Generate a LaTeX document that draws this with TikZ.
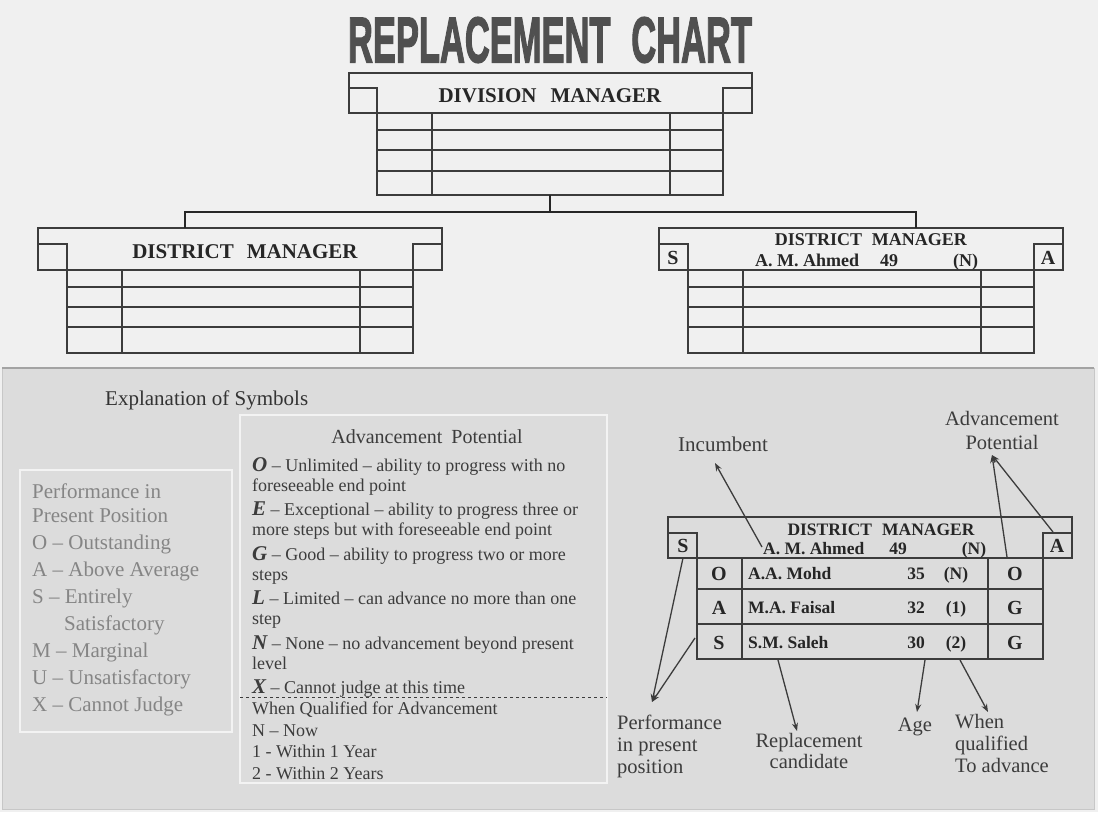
\documentclass[tikz,border=0pt]{standalone}
\usepackage{graphicx}
\usepackage{fontspec}
\setmainfont{Liberation Serif}
\newfontfamily\titlefont[FakeBold=2.5]{Liberation Sans Bold}
\usetikzlibrary{arrows.meta}

\definecolor{topbg}{HTML}{F0F0F0}
\definecolor{panelbg}{HTML}{DCDCDC}
\definecolor{panelline}{HTML}{A3A3A3}
\definecolor{ink}{HTML}{3C3C3C}
\definecolor{softink}{HTML}{858585}
\definecolor{boxline}{HTML}{F3F3F3}
\definecolor{titlegray}{HTML}{505050}

\begin{document}
\begin{tikzpicture}[x=1pt,y=-1pt]
    \tikzstyle{boxln} = [draw=ink, line width=1.6pt]
    \tikzstyle{tree} = [draw=black!85, line width=2.6pt]
    \tikzstyle{hdr} = [font=\fontsize{21}{24}\selectfont\bfseries, text=black!85, inner sep=0pt]
    \tikzstyle{hdrsmall} = [font=\fontsize{17.5}{20}\selectfont\bfseries, text=black!85, inner sep=0pt]
    \tikzstyle{letter} = [font=\fontsize{20}{20}\selectfont\bfseries, text=black!85, inner sep=0pt]
    \tikzstyle{note} = [font=\fontsize{21}{22}\selectfont, text=ink, inner sep=0pt]
    \tikzstyle{pointer} = [draw=ink, line width=1.3pt, -{Stealth[length=8pt,width=6pt]}]

    \useasboundingbox (0,0) rectangle (1098,812);

    % backgrounds
    \fill[topbg] (0,0) rectangle (1098,812);
    \fill[panelbg] (2,368) rectangle (1094,809);
    \draw[draw=black!22, line width=1pt] (2,368) -- (2,809) -- (1094,809) -- (1094,368);
    \draw[panelline, line width=2.2pt] (2,368) -- (1094,368);

    % title
    \node[text=titlegray, inner sep=0pt] (title) at (550,40)
        {\resizebox{404pt}{45pt}{\titlefont REPLACEMENT\hspace{0.6em}CHART}};

    % division manager box
    \begin{scope}[shift={(349,73)}]
        \draw[boxln] (0,0) rectangle (403,40);
        \draw[boxln] (0,15) -- (28,15) -- (28,122) -- (374,122) -- (374,15) -- (403,15);
        \draw[boxln] (83,40) -- (83,122) (321,40) -- (321,122);
        \foreach \r in {57,77,98} \draw[boxln] (28,\r) -- (374,\r);
    \end{scope}
    \node[hdr] (divname) at (550,96) {DIVISION\hspace{14pt}MANAGER};

    % district manager boxes
    \foreach \bx in {38,659} {
        \begin{scope}[shift={(\bx,228)}]
            \draw[boxln] (0,0) rectangle (404,42);
            \draw[boxln] (0,16) -- (29,16) -- (29,125) -- (375,125) -- (375,16) -- (404,16);
            \draw[boxln] (84,42) -- (84,125) (322,42) -- (322,125);
            \foreach \r in {59,79,99} \draw[boxln] (29,\r) -- (375,\r);
        \end{scope}
    }
    \node[hdr] (distleft) at (245,252) {DISTRICT\hspace{13pt}MANAGER};
    \node[hdrsmall, font=\fontsize{18}{20}\selectfont\bfseries] (distright) at (871,240) {DISTRICT\hspace{10pt}MANAGER};
    \node[hdrsmall, font=\fontsize{18}{20}\selectfont\bfseries, anchor=base west] (rname) at (755,266) {A. M. Ahmed};
    \node[hdrsmall, font=\fontsize{18}{20}\selectfont\bfseries, anchor=base west] (rage) at (880,266) {49};
    \node[hdrsmall, font=\fontsize{18}{20}\selectfont\bfseries, anchor=base west] (rwhen) at (953,266) {(N)};
    \node[letter] (rperf) at (673,258) {S};
    \node[letter] (rpot) at (1048,258) {A};

    % tree connector
    \coordinate (divbot) at (550,195);
    \coordinate (bus) at (550,212);
    \coordinate (lefttop) at (185,228);
    \coordinate (righttop) at (916,228);
    \draw[tree] (divbot) -- (bus) -| (lefttop);
    \draw[tree] (bus) -| (righttop);

    % explanation of symbols
    \node[note, text=black!80, anchor=base west] (expl) at (105,405) {Explanation of Symbols};

    % performance box
    \draw[boxline, line width=1.6pt] (20,470) rectangle (232,732);
    \node[note, text=softink, font=\fontsize{21}{27}\selectfont, align=left, anchor=north west] (perfkey) at (32,483.5)
        {Performance in\\[-3pt]
         Present Position\\
         O -- Outstanding\\
         A -- Above Average\\
         S -- Entirely\\
         \hspace*{32pt}Satisfactory\\
         M -- Marginal\\
         U -- Unsatisfactory\\
         X -- Cannot Judge};

    % advancement potential box
    \draw[boxline, line width=1.6pt] (240,415) rectangle (607,783);
    \node[note, font=\fontsize{20}{22}\selectfont, anchor=base] (advtitle) at (427,443) {Advancement\hspace{9pt}Potential};
    \node[note, font=\fontsize{18}{20}\selectfont, align=left, anchor=north west] (advkey) at (252,457)
        {{\fontsize{21}{20}\selectfont\bfseries\itshape O} -- Unlimited -- ability to progress with no\\
         foreseeable end point\\[4.5pt]
         {\fontsize{21}{20}\selectfont\bfseries\itshape E} -- Exceptional -- ability to progress three or\\
         more steps but with foreseeable end point\\[4.5pt]
         {\fontsize{21}{20}\selectfont\bfseries\itshape G} -- Good -- ability to progress two or more\\
         steps\\[4.5pt]
         {\fontsize{21}{20}\selectfont\bfseries\itshape L} -- Limited -- can advance no more than one\\
         step\\[4.5pt]
         {\fontsize{21}{20}\selectfont\bfseries\itshape N} -- None -- no advancement beyond present\\
         level\\[4.5pt]
         {\fontsize{21}{20}\selectfont\bfseries\itshape X} -- Cannot judge at this time};
    \draw[ink, dashed, line width=1pt] (240,697) -- (607,697);
    \node[note, font=\fontsize{18}{21.5}\selectfont, align=left, anchor=north west] (whenkey) at (252,702)
        {When Qualified for Advancement\\
         N -- Now\\
         1 - Within 1 Year\\
         2 - Within 2 Years};

    % sample district manager box
    \begin{scope}[shift={(668,517)}]
        \draw[boxln, line width=2pt] (0,0) rectangle (404,41);
        \draw[boxln, line width=2pt] (0,16) -- (29,16) -- (29,142) -- (375,142) -- (375,16) -- (404,16);
        \draw[boxln, line width=2pt] (74,41) -- (74,142) (320,41) -- (320,142);
        \foreach \r in {72,107} \draw[boxln, line width=2pt] (29,\r) -- (375,\r);
    \end{scope}
    \node[hdrsmall] (sdist) at (881,530) {DISTRICT\hspace{10pt}MANAGER};
    \node[hdrsmall, anchor=base west] (sname) at (763,554) {A. M. Ahmed};
    \node[hdrsmall, anchor=base] (sage) at (898,554) {49};
    \node[hdrsmall, anchor=base] (swhen) at (974,554) {(N)};
    \node[letter] (sperf) at (683,546) {S};
    \node[letter] (spot) at (1057,546) {A};

    % candidates
    \node[letter, anchor=base] (p1) at (719,580) {O};
    \node[hdrsmall, anchor=base west] (n1) at (748,579) {A.A. Mohd};
    \node[hdrsmall, anchor=base] (a1) at (916,579) {35};
    \node[hdrsmall, anchor=base] (w1) at (956,579) {(N)};
    \node[letter, anchor=base] (q1) at (1015,580) {O};

    \node[letter, anchor=base] (p2) at (719,614) {A};
    \node[hdrsmall, anchor=base west] (n2) at (748,613) {M.A. Faisal};
    \node[hdrsmall, anchor=base] (a2) at (916,613) {32};
    \node[hdrsmall, anchor=base] (w2) at (956,613) {(1)};
    \node[letter, anchor=base] (q2) at (1015,614) {G};

    \node[letter, anchor=base] (p3) at (719,649) {S};
    \node[hdrsmall, anchor=base west] (n3) at (748,648) {S.M. Saleh};
    \node[hdrsmall, anchor=base] (a3) at (916,648) {30};
    \node[hdrsmall, anchor=base] (w3) at (956,648) {(2)};
    \node[letter, anchor=base] (q3) at (1015,649) {G};

    % labels
    \node[note, anchor=base west] (incumbent) at (678,451) {Incumbent};
    \node[note, font=\fontsize{20.5}{24}\selectfont, align=center, anchor=north] (potlabel) at (1002,411) {Advancement\\Potential};
    \node[note, font=\fontsize{20.5}{22}\selectfont, align=left, anchor=north west] (perflabel) at (617,714.5) {Performance\\in present\\position};
    \node[note, font=\fontsize{20.5}{21}\selectfont, align=center, anchor=north] (repllabel) at (809,733.5) {Replacement\\candidate};
    \node[note, font=\fontsize{20.5}{22}\selectfont, anchor=base] (agelabel) at (915,731) {Age};
    \node[note, font=\fontsize{20.5}{22}\selectfont, align=left, anchor=north west] (whenlabel) at (955,714.5) {When\\qualified\\To advance};

    % pointer ends
    \coordinate (inctail) at (762,547);
    \coordinate (inctip) at (715,463);
    \coordinate (pottail1) at (1007,557);
    \coordinate (pottail2) at (1053,532);
    \coordinate (pottip) at (992,455);
    \coordinate (perftail1) at (683,558);
    \coordinate (perftail2) at (695,638);
    \coordinate (perftip) at (652,702);
    \coordinate (repltail) at (778,660);
    \coordinate (repltip) at (797,731);
    \coordinate (agetail) at (925,660);
    \coordinate (agetip) at (917,712);
    \coordinate (whentail) at (960,660);
    \coordinate (whentip) at (988,712);

    % pointers
    \draw[pointer] (inctail) -- (inctip);
    \draw[pointer] (pottail1) -- (pottip);
    \draw[pointer] (pottail2) -- (pottip);
    \draw[pointer] (perftail1) -- (perftip);
    \draw[pointer] (perftail2) -- (perftip);
    \draw[pointer] (repltail) -- (repltip);
    \draw[pointer] (agetail) -- (agetip);
    \draw[pointer] (whentail) -- (whentip);
\end{tikzpicture}
\end{document}
